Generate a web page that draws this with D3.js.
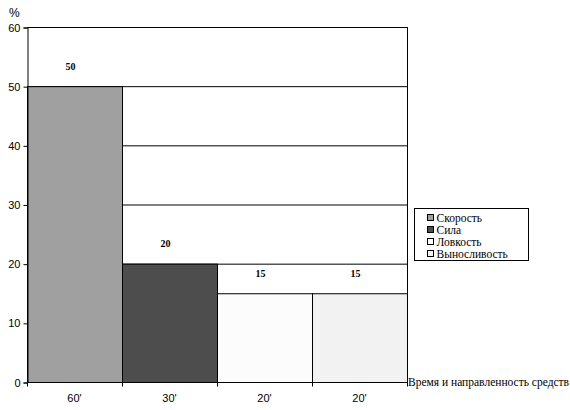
<!DOCTYPE html>
<html>
<head>
<meta charset="utf-8">
<script src="https://cdn.jsdelivr.net/npm/d3@7"></script>
<style>
  body { margin: 0; background: #fff; }
  svg { display: block; }
</style>
</head>
<body>
<div class="canvas"></div>
<script>
// data
const categories = ["60'", "30'", "20'", "20'"];
const values = [50, 20, 15, 15];
const seriesNames = ["Скорость", "Сила", "Ловкость", "Выносливость"];
const colors = ["#a0a0a0", "#4d4d4d", "#fcfcfc", "#f2f2f2"];
const yTicks = [0, 10, 20, 30, 40, 50, 60];

const dims = { width: 570, height: 410 };
const plot = { left: 27, right: 407, top: 27, bottom: 382 };

const svg = d3.select('.canvas')
  .append('svg')
  .attr('width', dims.width)
  .attr('height', dims.height);

const x = d3.scaleBand()
  .domain(d3.range(categories.length))
  .range([plot.left, plot.right])
  .padding(0);

const y = d3.scaleLinear()
  .domain([0, 60])
  .range([plot.bottom, plot.top]);

// gridlines
svg.append('g')
  .selectAll('line')
  .data(yTicks.filter(t => t > 0))
  .enter().append('line')
    .attr('x1', plot.left)
    .attr('x2', plot.right)
    .attr('y1', d => y(d) + 0.5)
    .attr('y2', d => y(d) + 0.5)
    .attr('stroke', '#000')
    .attr('stroke-width', 1);

// right border
svg.append('line')
  .attr('x1', plot.right + 0.5).attr('x2', plot.right + 0.5)
  .attr('y1', plot.top).attr('y2', plot.bottom)
  .attr('stroke', '#000');

// bars
svg.append('g')
  .selectAll('rect')
  .data(values)
  .enter().append('rect')
    .attr('x', (d, i) => x(i) + 0.5)
    .attr('y', d => y(d) + 0.5)
    .attr('width', x.bandwidth())
    .attr('height', d => y(0) - y(d))
    .attr('fill', (d, i) => colors[i])
    .attr('stroke', '#000')
    .attr('stroke-width', 1);

// value labels
svg.append('g')
  .selectAll('text')
  .data(values)
  .enter().append('text')
    .attr('x', (d, i) => x(i) + x.bandwidth() / 2 - 4)
    .attr('y', d => y(d) - 20)
    .attr('dy', '0.35em')
    .attr('text-anchor', 'middle')
    .attr('font-family', '"Liberation Serif", "Times New Roman", serif')
    .attr('font-weight', 'bold')
    .attr('font-size', 10)
    .text(d => d);

// y axis
const yAxis = svg.append('g')
  .attr('transform', `translate(${plot.left + 0.5},0.5)`)
  .call(d3.axisLeft(y).tickValues(yTicks).tickSize(4).tickPadding(3));
yAxis.selectAll('path,line').attr('stroke', '#000');
yAxis.selectAll('text')
  .attr('font-family', '"Liberation Sans", Arial, sans-serif')
  .attr('font-size', 11)
  .attr('fill', '#000');

// x axis
const xAxis = svg.append('g')
  .attr('transform', `translate(0,${plot.bottom + 0.5})`);
xAxis.append('line')
  .attr('x1', plot.left).attr('x2', plot.right + 1)
  .attr('stroke', '#000');
xAxis.selectAll('.tick')
  .data(d3.range(categories.length + 1))
  .enter().append('line')
    .attr('x1', i => (i < categories.length ? x(i) : plot.right) + 0.5)
    .attr('x2', i => (i < categories.length ? x(i) : plot.right) + 0.5)
    .attr('y1', 0).attr('y2', 4)
    .attr('stroke', '#000');
xAxis.selectAll('text')
  .data(categories)
  .enter().append('text')
    .attr('x', (d, i) => x(i) + x.bandwidth() / 2)
    .attr('y', 19)
    .attr('text-anchor', 'middle')
    .attr('font-family', '"Liberation Sans", Arial, sans-serif')
    .attr('font-size', 11)
    .text(d => d);

// axis titles
svg.append('text')
  .attr('x', 9).attr('y', 17)
  .attr('font-family', '"Liberation Sans", Arial, sans-serif')
  .attr('font-size', 12)
  .text('%');

svg.append('text')
  .attr('x', plot.right + 1).attr('y', 386)
  .attr('font-family', '"Liberation Serif", "Times New Roman", serif')
  .attr('font-size', 11.5)
  .text('Время и направленность средств');

// legend
const legend = svg.append('g').attr('transform', 'translate(414.5,208.5)');
legend.append('rect')
  .attr('width', 114).attr('height', 52)
  .attr('fill', '#fff').attr('stroke', '#000');
const items = legend.selectAll('.item')
  .data(seriesNames)
  .enter().append('g')
    .attr('class', 'item')
    .attr('transform', (d, i) => `translate(13,${6 + i * 12})`);
items.append('rect')
  .attr('width', 6).attr('height', 6)
  .attr('fill', (d, i) => colors[i])
  .attr('stroke', '#000');
items.append('text')
  .attr('x', 9).attr('y', 3)
  .attr('dy', '0.35em')
  .attr('font-family', '"Liberation Serif", "Times New Roman", serif')
  .attr('font-size', 11.5)
  .text(d => d);
</script>
</body>
</html>
